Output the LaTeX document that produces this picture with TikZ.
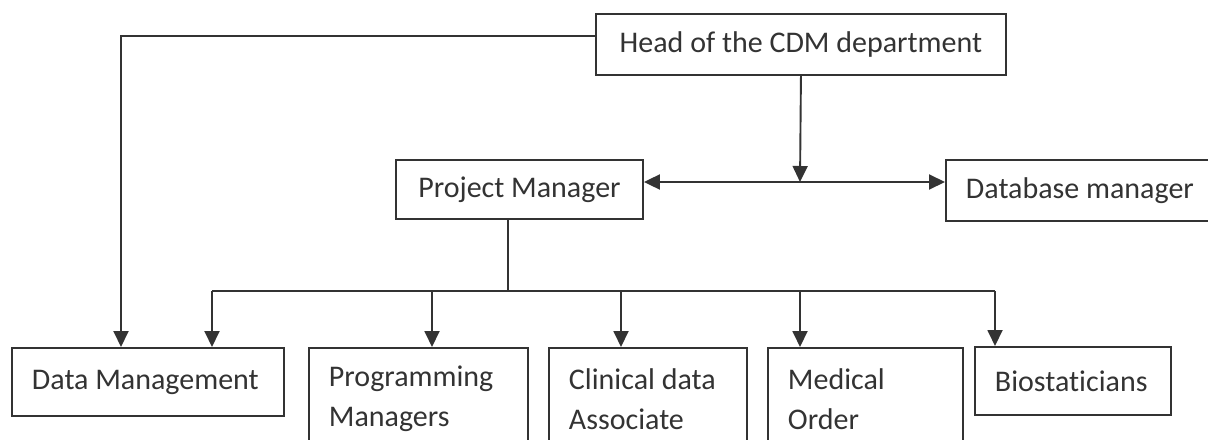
\documentclass[tikz,border=0pt]{standalone}
\usepackage{fontspec}
\setmainfont{Carlito}[Ligatures=NoCommon]
\usetikzlibrary{arrows.meta,positioning}
\definecolor{ink}{HTML}{333333}
\begin{document}
\begin{tikzpicture}[x=0.5pt,y=-0.5pt,line width=0.95pt,draw=ink,
 every node/.style={font=\fontsize{15}{20}\selectfont,text=ink},
 box/.style={draw=ink,anchor=north west,inner xsep=10pt,inner ysep=0pt},
 top/.style={box,align=center},
 unit/.style={box,align=flush left,minimum height=#1},unit/.default=34pt,
 arr/.style={-{Triangle[width=7.5pt,length=8pt]}}]
\clip (0,0) rectangle (1208,439);
\node[top,minimum width=205pt,minimum height=30.5pt](head) at (595,13){Head of the CDM department};
\node[top,minimum width=123.5pt,minimum height=29.5pt](pm) at (395,159){Project Manager};
\node[top,minimum width=130pt,minimum height=30.5pt](db) at (945,159){Database manager};
\node[unit,text width=116pt](dm) at (11,347){Data Management};
\node[unit=51pt,text width=89.5pt](prog) at (308,347){Programming\\Managers};
\node[unit=51pt,text width=79pt](cda) at (548,347){Clinical data\\Associate};
\node[unit=51pt,text width=77.5pt](med) at (767,347){Medical\\Order};
\node[unit,text width=78pt](bio) at (974,346){Biostaticians};
\coordinate (hub) at (800,182);
\coordinate (corner) at (121,36);
\coordinate (split) at (508,291);
\draw[arr](head.south)--(hub);\draw[arr](hub)--(pm.east |- hub);\draw[arr](hub)--(db.west |- hub);
\draw[arr](head.west |- corner)--(corner)--(corner |- dm.north);
\draw(pm.south -| split)--(split);
\foreach \n/\x in {dm/212,prog/432,cda/621,med/800,bio/995}{
 \coordinate (t-\n) at (\x,291);
 \draw[arr](t-\n)--(t-\n |- \n.north);}
\draw(t-dm)--(t-bio);
\end{tikzpicture}
\end{document}
